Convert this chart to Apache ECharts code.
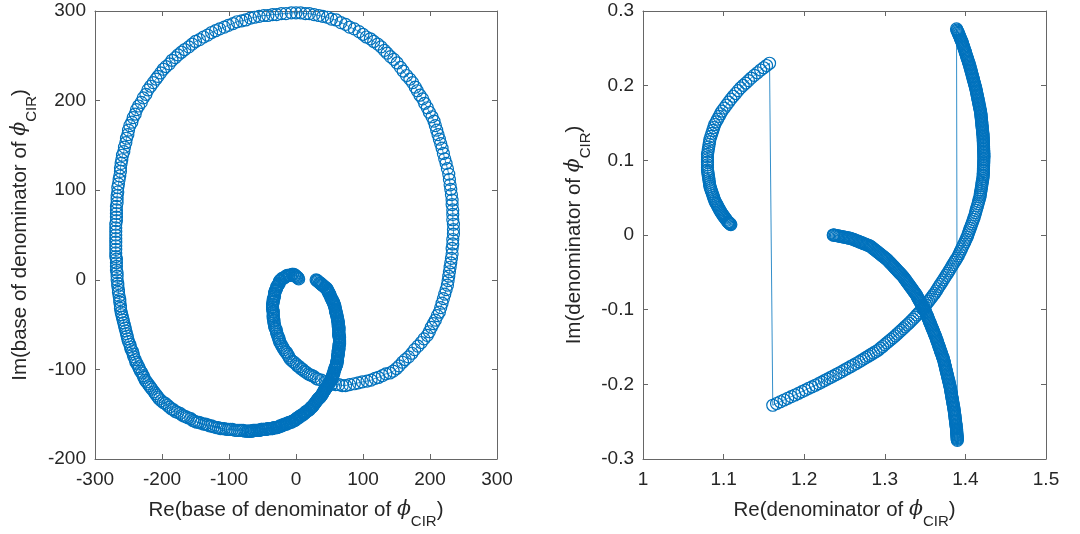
<!DOCTYPE html>
<html>
<head>
<meta charset="utf-8">
<script src="https://cdn.jsdelivr.net/npm/echarts/dist/echarts.min.js"></script>
<style>
  html, body { margin: 0; padding: 0; background: #ffffff; }
  #chart { width: 1080px; height: 534px; }
</style>
</head>
<body>
<div id="chart"></div>
<script>
// ---- Left panel: base of the denominator of phi_CIR (Re, Im) ----
// solid band from the start point down the right arc to the bottom
const baseDenseArc = [
  [30,0],[31,-1],[32,-1],[33,-2],[35,-3],[36,-4],[37,-4],[38,-5],[39,-6],[40,-6],[41,-7],[43,-8],[44,-9],[45,-9],[46,-10],
  [47,-11],[47,-12],[48,-13],[49,-14],[49,-15],[50,-16],[51,-17],[52,-19],[52,-20],[53,-21],[54,-22],[54,-23],[55,-24],[56,-25],[56,-26],[57,-27],
  [57,-28],[58,-29],[58,-30],[58,-31],[59,-33],[59,-34],[59,-35],[60,-36],[60,-37],[60,-38],[61,-39],[61,-40],[61,-41],[62,-43],[62,-44],[62,-45],[63,-46],[63,-47],
  [63,-48],[63,-49],[63,-50],[63,-52],[64,-53],[64,-54],[64,-55],[64,-56],[64,-57],[64,-59],[64,-60],[64,-61],[64,-62],[64,-63],[65,-64],[65,-65],[65,-67],[65,-68],[65,-69],[65,-70],
  [65,-71],[65,-72],[64,-73],[64,-75],[64,-76],[64,-77],[64,-78],[63,-79],[63,-80],[63,-82],[63,-83],[63,-84],[62,-85],[62,-86],[62,-87],[62,-88],[62,-90],[61,-91],[61,-92],[61,-93],
  [61,-94],[60,-95],[60,-96],[59,-97],[59,-98],[58,-99],[58,-100],[57,-101],[57,-103],[56,-104],[56,-105],[55,-106],[55,-107],[54,-108],[54,-109],[53,-110],[53,-111],[52,-112],
  [51,-113],[50,-114],[50,-115],[49,-116],[48,-117],[47,-118],[47,-119],[46,-120],[45,-120],[44,-121],[43,-122],[43,-123],[42,-124],[41,-125],[40,-126],[40,-127],[39,-128],[38,-129],
  [37,-130],[36,-131],[35,-132],[34,-132],[33,-133],[32,-134],[31,-135],[30,-136],[29,-137],[28,-138],[27,-139],[26,-140],[25,-141],[24,-142],[23,-142],[22,-143],[21,-144],
  [20,-145],[19,-145],[18,-146],[16,-147],[15,-147],[14,-148],[13,-149],[12,-149],[11,-150],[10,-151],[8,-151],[7,-152],[6,-152],[5,-153],[4,-154],[2,-154],[1,-155],[0,-156],[-1,-156],[-2,-157],
  [-3,-157],[-5,-158],[-6,-158],[-7,-159],[-9,-159],[-10,-159],[-11,-160],[-13,-160],[-14,-161],[-15,-161],[-17,-161],[-18,-162],[-20,-162],[-21,-163],[-22,-163],[-24,-163],[-25,-164],[-26,-164],[-28,-165],[-29,-165],
  [-30,-165],[-32,-165],[-33,-165],[-35,-166],[-36,-166],[-38,-166],[-39,-166],[-41,-166],[-42,-166],[-44,-167],[-45,-167],[-46,-167],[-48,-167],[-49,-167],[-51,-167],[-52,-167],[-54,-168],[-55,-168],[-57,-168],[-58,-168],
  [-60,-168],[-62,-168],[-64,-168],[-66,-169],[-67,-169],[-69,-169],[-71,-169],[-73,-169]
];
// lower-left part of the big loop, up to its leftmost point
const baseLowerArc = [
  [-76,-169],[-79,-168],[-82,-168],[-85,-168],[-88,-168],[-91,-168],[-95,-167],[-98,-167],[-101,-167],[-104,-167],[-107,-166],[-110,-166],[-113,-166],
  [-116,-165],[-119,-165],[-123,-164],[-126,-163],[-129,-163],[-132,-162],[-135,-161],[-138,-161],[-142,-160],[-145,-159],[-148,-159],[-151,-158],
  [-154,-157],[-157,-155],[-161,-154],[-164,-153],[-167,-152],[-170,-151],[-173,-149],[-177,-148],[-180,-147],
  [-183,-145],[-186,-144],[-189,-142],[-192,-140],[-195,-138],[-198,-137],[-201,-135],[-204,-133],
  [-206,-131],[-208,-129],[-210,-127],[-212,-125],[-215,-122],[-217,-120],[-219,-118],[-221,-116],[-223,-114],
  [-225,-112],[-227,-109],[-228,-107],[-230,-104],[-232,-102],[-234,-99],[-235,-97],[-237,-94],[-239,-92],
  [-240,-89],[-242,-86],[-243,-83],[-244,-80],[-246,-78],[-247,-75],[-248,-72],[-250,-69],[-251,-66],
  [-252,-63],[-253,-60],[-254,-57],[-255,-54],[-256,-51],[-257,-48],[-258,-45],[-259,-42],[-260,-39],[-261,-36],
  [-262,-32],[-262,-29],[-263,-25],[-263,-22],[-264,-18],[-265,-14],[-265,-11],[-266,-7],[-266,-4],[-267,0],
  [-267,4],[-267,8],[-268,11],[-268,15],[-268,19],[-268,23],[-269,26],[-269,30],
  [-269,34],[-269,38],[-269,42],[-269,46],[-269,50]
];
// open part of the big loop: over the top, down the right side
const baseOuterArc = [
  [-269,54],[-269,58],[-269,62],[-268,66],[-268,70],[-268,74],[-268,78],[-268,82],[-267,86],[-267,90],[-267,94],
  [-266,98],[-266,103],[-265,107],[-264,112],[-263,116],[-262,121],[-262,125],[-261,130],[-260,134],
  [-259,139],[-257,143],[-256,148],[-254,153],[-253,158],[-251,162],[-250,167],
  [-248,172],[-245,176],[-243,181],[-240,185],[-238,190],[-235,194],
  [-231,198],[-228,203],[-224,207],[-221,212],[-217,216],
  [-213,220],[-209,224],[-206,227],[-202,231],[-198,235],
  [-194,238],[-189,241],[-185,245],[-180,248],[-176,251],
  [-171,254],[-166,257],[-160,260],[-155,263],[-150,266],
  [-144,268],[-138,271],[-132,273],[-126,276],[-120,278],
  [-114,280],[-107,282],[-101,284],[-94,286],[-88,288],
  [-81,289],[-75,290],[-68,292],[-62,293],[-55,294],
  [-48,295],[-42,295],[-35,296],[-29,296],[-22,297],
  [-15,297],[-7,298],[0,298],
  [7,298],[14,297],[20,297],[27,296],
  [34,295],[40,294],[47,293],[53,291],[60,290],
  [67,287],[74,285],[80,282],[87,280],[94,277],
  [100,274],[105,271],[111,269],[116,266],[122,263],
  [127,260],[132,256],[136,253],[141,249],[146,246],
  [151,242],[156,237],[160,233],[165,228],[170,224],
  [174,220],[178,215],[181,211],[185,206],[189,202],
  [192,197],[196,192],[199,187],[203,182],[206,177],
  [208,172],[210,167],[212,162],[214,157],[216,152],[218,147],
  [220,141],[222,135],[224,130],[226,124],[228,118],
  [229,112],[230,106],[231,101],[232,95],[233,89],
  [233,84],[234,78],[234,73],[234,67],[235,62],[235,56],
  [235,51],[234,45],[234,40],[233,35],[233,29],[232,24],
  [231,19],[230,14],[229,9],[228,4],[227,-1],[226,-6],
  [224,-11],[222,-16],[220,-21],[218,-26],[216,-31],[214,-36],
  [211,-40],[208,-45],[205,-49],[202,-53],[199,-58],[196,-62],
  [191,-66],[187,-70],[182,-74],[177,-78],[173,-82],[168,-86],
  [163,-89],[159,-92],[154,-96],[150,-99],[145,-102],
  [140,-104],[134,-105],[129,-107],[123,-109],[118,-110],[112,-112],
  [106,-113],[99,-114],[93,-115],[87,-116],[80,-117],[74,-118]
];
// small inner loop ending in the hook near the origin
const baseInnerArc = [
  [69,-118],[64,-117],[59,-117],[54,-116],
  [49,-115],[44,-114],[38,-112],[33,-111],
  [30,-110],[27,-108],[24,-107],[21,-106],[18,-105],[15,-103],[12,-102],
  [10,-100],[7,-99],[5,-97],[2,-96],[0,-94],[-3,-92],[-5,-91],[-8,-89],
  [-10,-87],[-11,-85],[-13,-83],[-14,-81],[-16,-80],[-18,-78],[-19,-76],[-21,-74],[-22,-72],[-24,-70],
  [-25,-68],[-25,-66],[-26,-65],[-27,-63],[-28,-61],[-29,-59],[-29,-57],[-30,-55],[-31,-54],[-32,-52],[-32,-50],[-33,-48],
  [-33,-46],[-33,-45],[-34,-43],[-34,-41],[-34,-40],[-34,-38],[-34,-36],[-34,-35],[-35,-33],[-35,-31],[-35,-30],[-35,-28],
  [-35,-27],[-34,-25],[-34,-24],[-34,-22],[-33,-21],[-33,-19],[-32,-18],[-32,-16],[-32,-15],[-31,-13],[-31,-12],
  [-30,-11],[-29,-10],[-29,-8],[-28,-7],[-27,-6],[-26,-5],[-25,-4],[-25,-2],[-24,-1],[-23,0],
  [-21,1],[-20,2],[-18,2],[-16,3],[-15,4],[-13,5],
  [-11,5],[-10,5],[-8,5],[-6,6],[-5,6],[-3,6],
  [-2,5],[-1,5],[0,4],[1,3],[2,3],[3,2],[4,1]
];

// ---- Right panel: denominator of phi_CIR (Re, Im) ----
// solid arc from (1.24, 0) down to the lower end near x = 1.39
const denomArcC = [
  [1.236,0],[1.2365,0],[1.237,0],
  [1.2386,-0.0004],[1.2401,-0.0007],[1.2417,-0.0011],[1.2433,-0.0014],[1.2449,-0.0018],[1.2464,-0.0021],[1.248,-0.0025],[1.2496,-0.0029],[1.2511,-0.0032],[1.2527,-0.0036],[1.2543,-0.0039],[1.2559,-0.0043],[1.2574,-0.0046],[1.259,-0.005],
  [1.2605,-0.0057],[1.2621,-0.0063],[1.2636,-0.007],[1.2651,-0.0077],[1.2667,-0.0083],[1.2682,-0.009],[1.2697,-0.0097],[1.2713,-0.0103],[1.2728,-0.011],[1.2743,-0.0117],[1.2759,-0.0123],[1.2774,-0.013],[1.2789,-0.0137],[1.2805,-0.0143],[1.282,-0.015],
  [1.2833,-0.0161],[1.2846,-0.0173],[1.2859,-0.0184],[1.2873,-0.0195],[1.2886,-0.0206],[1.2899,-0.0218],[1.2912,-0.0229],[1.2925,-0.024],[1.2938,-0.0251],[1.2951,-0.0263],[1.2964,-0.0274],[1.2978,-0.0285],[1.2991,-0.0296],[1.3004,-0.0308],[1.3017,-0.0319],[1.303,-0.033],
  [1.3041,-0.0343],[1.3052,-0.0356],[1.3063,-0.0368],[1.3074,-0.0381],[1.3086,-0.0394],[1.3097,-0.0407],[1.3108,-0.0419],[1.3119,-0.0432],[1.313,-0.0445],[1.3141,-0.0458],[1.3152,-0.0471],[1.3163,-0.0483],[1.3174,-0.0496],[1.3186,-0.0509],[1.3197,-0.0522],[1.3208,-0.0534],[1.3219,-0.0547],[1.323,-0.056],
  [1.3239,-0.0574],[1.3249,-0.0588],[1.3258,-0.0602],[1.3268,-0.0616],[1.3277,-0.0631],[1.3286,-0.0645],[1.3296,-0.0659],[1.3305,-0.0673],[1.3315,-0.0687],[1.3324,-0.0701],[1.3334,-0.0715],[1.3343,-0.0729],[1.3352,-0.0744],[1.3362,-0.0758],[1.3371,-0.0772],[1.3381,-0.0786],[1.339,-0.08],
  [1.3398,-0.0815],[1.3405,-0.083],[1.3413,-0.0845],[1.342,-0.086],[1.3428,-0.0875],[1.3435,-0.089],[1.3443,-0.0905],[1.345,-0.092],[1.3458,-0.0935],[1.3465,-0.095],[1.3473,-0.0965],[1.348,-0.098],[1.3488,-0.0995],[1.3495,-0.101],[1.3503,-0.1025],[1.351,-0.104],
  [1.3516,-0.1056],[1.3522,-0.1072],[1.3528,-0.1088],[1.3534,-0.1104],[1.354,-0.112],[1.3546,-0.1136],[1.3552,-0.1152],[1.3558,-0.1168],[1.3564,-0.1184],[1.357,-0.12],[1.3576,-0.1216],[1.3582,-0.1232],[1.3588,-0.1248],[1.3594,-0.1264],[1.36,-0.128],[1.3606,-0.1296],[1.3612,-0.1312],[1.3618,-0.1328],[1.3624,-0.1344],[1.363,-0.136],
  [1.3635,-0.1376],[1.3641,-0.1393],[1.3646,-0.1409],[1.3651,-0.1425],[1.3656,-0.1442],[1.3662,-0.1458],[1.3667,-0.1474],[1.3672,-0.1491],[1.3677,-0.1507],[1.3683,-0.1523],[1.3688,-0.154],[1.3693,-0.1556],[1.3698,-0.1572],[1.3704,-0.1588],[1.3709,-0.1605],[1.3714,-0.1621],[1.3719,-0.1637],[1.3725,-0.1654],[1.373,-0.167],
  [1.3734,-0.1687],[1.3738,-0.1704],[1.3741,-0.1721],[1.3745,-0.1739],[1.3749,-0.1756],[1.3753,-0.1773],[1.3757,-0.179],[1.376,-0.1807],[1.3764,-0.1824],[1.3768,-0.1841],[1.3772,-0.1859],[1.3776,-0.1876],[1.378,-0.1893],[1.3783,-0.191],[1.3787,-0.1927],[1.3791,-0.1944],[1.3795,-0.1961],[1.3799,-0.1979],[1.3802,-0.1996],[1.3806,-0.2013],[1.381,-0.203],
  [1.3813,-0.2047],[1.3816,-0.2064],[1.3818,-0.2082],[1.3821,-0.2099],[1.3824,-0.2116],[1.3827,-0.2133],[1.3829,-0.2151],[1.3832,-0.2168],[1.3835,-0.2185],[1.3838,-0.2202],[1.3841,-0.2219],[1.3843,-0.2237],[1.3846,-0.2254],[1.3849,-0.2271],[1.3852,-0.2288],[1.3854,-0.2306],[1.3857,-0.2323],[1.386,-0.234],
  [1.3862,-0.2357],[1.3864,-0.2375],[1.3866,-0.2392],[1.3868,-0.2409],[1.387,-0.2427],[1.3872,-0.2444],[1.3874,-0.2461],[1.3876,-0.2479],[1.3878,-0.2496],[1.388,-0.2513],[1.3882,-0.2531],[1.3884,-0.2548],[1.3886,-0.2565],[1.3888,-0.2583],[1.389,-0.26],
  [1.3891,-0.2613],[1.3892,-0.2625],[1.3893,-0.2638],[1.3893,-0.265],[1.3894,-0.2663],[1.3895,-0.2675],[1.3896,-0.2688],[1.3897,-0.27],[1.3898,-0.2713],[1.3898,-0.2725],[1.3899,-0.2738],[1.39,-0.275]
];
// arc from the top near x = 1.39, round the right, down to (1.16, -0.23)
const denomArcB = [
  [1.389,0.276],
  [1.3896,0.2745],[1.3902,0.273],[1.3908,0.2715],[1.3913,0.27],[1.3919,0.2685],[1.3925,0.267],[1.3931,0.2655],[1.3937,0.264],[1.3943,0.2625],[1.3948,0.261],[1.3954,0.2595],[1.396,0.258],
  [1.3965,0.2563],[1.397,0.2547],[1.3975,0.253],[1.398,0.2513],[1.3985,0.2497],[1.399,0.248],[1.3995,0.2463],[1.4,0.2447],[1.4005,0.243],[1.401,0.2413],[1.4015,0.2397],[1.402,0.238],[1.4025,0.2363],[1.403,0.2347],[1.4035,0.233],[1.404,0.2313],[1.4045,0.2297],[1.405,0.228],
  [1.4054,0.2262],[1.4059,0.2244],[1.4063,0.2227],[1.4068,0.2209],[1.4072,0.2191],[1.4077,0.2173],[1.4081,0.2156],[1.4086,0.2138],[1.409,0.212],[1.4094,0.2102],[1.4099,0.2084],[1.4103,0.2067],[1.4108,0.2049],[1.4112,0.2031],[1.4117,0.2013],[1.4121,0.1996],[1.4126,0.1978],[1.413,0.196],
  [1.4133,0.1942],[1.4137,0.1924],[1.414,0.1907],[1.4143,0.1889],[1.4147,0.1871],[1.415,0.1853],[1.4153,0.1836],[1.4157,0.1818],[1.416,0.18],[1.4163,0.1782],[1.4167,0.1764],[1.417,0.1747],[1.4173,0.1729],[1.4177,0.1711],[1.418,0.1693],[1.4183,0.1676],[1.4187,0.1658],[1.419,0.164],
  [1.4192,0.1622],[1.4193,0.1604],[1.4195,0.1587],[1.4197,0.1569],[1.4198,0.1551],[1.42,0.1533],[1.4202,0.1516],[1.4203,0.1498],[1.4205,0.148],[1.4207,0.1462],[1.4208,0.1444],[1.421,0.1427],[1.4212,0.1409],[1.4213,0.1391],[1.4215,0.1373],[1.4217,0.1356],[1.4218,0.1338],[1.422,0.132],
  [1.4221,0.1301],[1.4221,0.1281],[1.4222,0.1262],[1.4223,0.1243],[1.4224,0.1224],[1.4224,0.1204],[1.4225,0.1185],[1.4226,0.1166],[1.4226,0.1146],[1.4227,0.1127],[1.4228,0.1108],[1.4229,0.1089],[1.4229,0.1069],[1.423,0.105],
  [1.4229,0.1028],[1.4228,0.1005],[1.4228,0.0983],[1.4227,0.096],[1.4226,0.0938],[1.4225,0.0915],[1.4224,0.0893],[1.4223,0.087],[1.4223,0.0848],[1.4222,0.0825],[1.4221,0.0803],[1.422,0.078],
  [1.4216,0.0755],[1.4213,0.0731],[1.4209,0.0706],[1.4205,0.0682],[1.4202,0.0657],[1.4198,0.0633],[1.4195,0.0608],[1.4191,0.0584],[1.4187,0.0559],[1.4184,0.0535],[1.418,0.051],
  [1.4172,0.048],[1.4164,0.045],[1.4157,0.042],[1.4149,0.039],[1.4141,0.036],[1.4133,0.033],[1.4126,0.03],[1.4118,0.027],[1.411,0.024],
  [1.41,0.021],[1.409,0.018],[1.408,0.015],[1.407,0.012],[1.406,0.009],[1.405,0.006],[1.404,0.003],[1.403,0],[1.402,-0.003],
  [1.4006,-0.0061],[1.3993,-0.0093],[1.3979,-0.0124],[1.3965,-0.0155],[1.3951,-0.0186],[1.3938,-0.0218],[1.3924,-0.0249],[1.391,-0.028],
  [1.3894,-0.0309],[1.3878,-0.0338],[1.3861,-0.0366],[1.3845,-0.0395],[1.3829,-0.0424],[1.3813,-0.0453],[1.3796,-0.0481],[1.378,-0.051],
  [1.3762,-0.054],[1.3744,-0.057],[1.3727,-0.06],[1.3709,-0.063],[1.3691,-0.066],[1.3673,-0.069],[1.3656,-0.072],[1.3638,-0.075],[1.362,-0.078],
  [1.3601,-0.0806],[1.3583,-0.0833],[1.3564,-0.0859],[1.3545,-0.0885],[1.3526,-0.0911],[1.3508,-0.0938],[1.3489,-0.0964],[1.347,-0.099],
  [1.3446,-0.1017],[1.3421,-0.1044],[1.3397,-0.1071],[1.3373,-0.1099],[1.3349,-0.1126],[1.3324,-0.1153],[1.33,-0.118],
  [1.3276,-0.1204],[1.3251,-0.1229],[1.3227,-0.1253],[1.3203,-0.1277],[1.3179,-0.1301],[1.3154,-0.1326],[1.313,-0.135],
  [1.3104,-0.1374],[1.3078,-0.1398],[1.3051,-0.1421],[1.3025,-0.1445],[1.2999,-0.1469],[1.2973,-0.1493],[1.2946,-0.1516],[1.292,-0.154],
  [1.289,-0.156],[1.286,-0.158],[1.283,-0.16],[1.28,-0.162],[1.277,-0.164],[1.274,-0.166],[1.271,-0.168],[1.268,-0.17],
  [1.2644,-0.1721],[1.2609,-0.1743],[1.2573,-0.1764],[1.2537,-0.1786],[1.2501,-0.1807],[1.2466,-0.1829],[1.243,-0.185],
  [1.2394,-0.187],[1.2359,-0.189],[1.2323,-0.191],[1.2287,-0.193],[1.2251,-0.195],[1.2216,-0.197],[1.218,-0.199],
  [1.2138,-0.2012],[1.2097,-0.2033],[1.2055,-0.2055],[1.2013,-0.2077],[1.1972,-0.2098],[1.193,-0.212],
  [1.1885,-0.2143],[1.184,-0.2165],[1.1795,-0.2188],[1.175,-0.221],
  [1.1703,-0.2233],[1.1657,-0.2257],[1.161,-0.228]
];
// short arc on the left, from (1.16, 0.23) down to (1.11, 0.014)
const denomArcA = [
  [1.157,0.230],[1.1533,0.227],[1.1497,0.224],[1.146,0.221],
  [1.142,0.2173],[1.138,0.2137],[1.134,0.21],
  [1.1308,0.2068],[1.1275,0.2035],[1.1243,0.2003],[1.121,0.197],
  [1.118,0.1933],[1.115,0.1895],[1.112,0.1858],[1.109,0.182],
  [1.1063,0.178],[1.1035,0.174],[1.1008,0.17],[1.098,0.166],
  [1.0962,0.1624],[1.0944,0.1588],[1.0926,0.1552],[1.0908,0.1516],[1.089,0.148],
  [1.0878,0.144],[1.0866,0.14],[1.0854,0.136],[1.0842,0.132],[1.083,0.128],
  [1.0825,0.1247],[1.082,0.1213],[1.0815,0.118],[1.081,0.1147],[1.0805,0.1113],[1.08,0.108],
  [1.08,0.1045],[1.08,0.101],[1.08,0.0975],[1.08,0.094],[1.08,0.0905],[1.08,0.087],
  [1.0804,0.0843],[1.0808,0.0815],[1.0811,0.0788],[1.0815,0.076],[1.0819,0.0733],[1.0823,0.0705],[1.0826,0.0678],[1.083,0.065],
  [1.0838,0.0626],[1.0845,0.0603],[1.0853,0.0579],[1.086,0.0555],[1.0868,0.0531],[1.0875,0.0508],[1.0883,0.0484],[1.089,0.046],
  [1.0899,0.0442],[1.0908,0.0424],[1.0917,0.0407],[1.0926,0.0389],[1.0934,0.0371],[1.0943,0.0353],[1.0952,0.0336],[1.0961,0.0318],[1.097,0.03],
  [1.098,0.0285],[1.099,0.027],[1.1,0.0255],[1.101,0.024],[1.102,0.0225],[1.103,0.021],[1.104,0.0195],[1.105,0.018],
  [1.1057,0.0173],[1.1063,0.0167],[1.107,0.016],[1.1077,0.0153],[1.1083,0.0147],[1.109,0.014]
];

// axis ranges and tick steps
const baseRangeX = [-300, 300], baseRangeY = [-200, 300], baseStep = 100;
const denomRangeX = [1, 1.5], denomRangeY = [-0.3, 0.3], denomStep = 0.1;

// axis titles (rich text: italic phi with subscript CIR)
const baseXTitle = '{t|Re(base of denominator of }{p|ϕ}{s|CIR}{t|)}';
const baseYTitle = '{t|Im(base of denominator of }{p|ϕ}{s|CIR}{t|)}';
const denomXTitle = '{t|Re(denominator of }{p|ϕ}{s|CIR}{t|)}';
const denomYTitle = '{t|Im(denominator of }{p|ϕ}{s|CIR}{t|)}';

const LINE_BLUE = '#0072BD';
const AXIS_GREY = '#666666';
const TEXT_DARK = '#262626';
const FONT = '"Liberation Sans", Arial, Helvetica, sans-serif';

const titleRich = {
  t: { fontFamily: FONT, fontSize: 20.5, lineHeight: 38, color: TEXT_DARK, verticalAlign: 'middle' },
  p: { fontFamily: '"DejaVu Serif", serif', fontStyle: 'italic', fontSize: 20.5, lineHeight: 38, color: TEXT_DARK, verticalAlign: 'middle' },
  s: { fontFamily: FONT, fontSize: 15, lineHeight: 15, color: TEXT_DARK, verticalAlign: 'bottom' }
};

function fmtTick(step) {
  return function (v) {
    const r = Math.round(v / step) * step;
    return step < 1 ? String(+r.toFixed(1)) : String(Math.round(r));
  };
}

function makeX(grid, range, step, title, gap, showLabels) {
  return {
    type: 'value', gridIndex: grid, min: range[0], max: range[1], interval: step,
    position: showLabels ? 'bottom' : 'top',
    name: showLabels ? title : '', nameLocation: 'middle', nameGap: gap,
    nameTextStyle: { rich: titleRich },
    axisLine: { show: true, onZero: false, lineStyle: { color: AXIS_GREY, width: 1 } },
    axisTick: { show: true, inside: true, length: 5, lineStyle: { color: AXIS_GREY, width: 1 } },
    axisLabel: { show: showLabels, margin: 11, color: TEXT_DARK, fontSize: 19, fontFamily: FONT, formatter: fmtTick(step) },
    splitLine: { show: false }
  };
}

function makeY(grid, range, step, title, gap, showLabels) {
  return {
    type: 'value', gridIndex: grid, min: range[0], max: range[1], interval: step,
    position: showLabels ? 'left' : 'right',
    name: showLabels ? title : '', nameLocation: 'middle', nameGap: gap,
    nameTextStyle: { rich: titleRich },
    axisLine: { show: true, onZero: false, lineStyle: { color: AXIS_GREY, width: 1 } },
    axisTick: { show: true, inside: true, length: 5, lineStyle: { color: AXIS_GREY, width: 1 } },
    axisLabel: { show: showLabels, margin: 9, color: TEXT_DARK, fontSize: 19, fontFamily: FONT, formatter: fmtTick(step) },
    splitLine: { show: false }
  };
}

function ringSeries(xi, yi, data) {
  return {
    type: 'line', xAxisIndex: xi, yAxisIndex: yi, data: data,
    symbol: 'circle', symbolSize: 12, showSymbol: true, clip: false,
    itemStyle: { color: 'rgba(0,0,0,0)', borderColor: LINE_BLUE, borderWidth: 1.2 },
    lineStyle: { color: LINE_BLUE, width: 0.8 },
    silent: true, animation: false
  };
}

const basePath = baseDenseArc.concat(baseLowerArc, baseOuterArc, baseInnerArc);
const denomPath = denomArcC.concat(denomArcB, denomArcA);

const chart = echarts.init(document.getElementById('chart'), null, { renderer: 'canvas' });
chart.setOption({
  backgroundColor: '#ffffff',
  animation: false,
  grid: [
    { left: 95, top: 11, width: 402, height: 449 },
    { left: 643, top: 11, width: 403, height: 449 }
  ],
  xAxis: [
    makeX(0, baseRangeX, baseStep, baseXTitle, 32, true),
    makeX(0, baseRangeX, baseStep, '', 0, false),
    makeX(1, denomRangeX, denomStep, denomXTitle, 32, true),
    makeX(1, denomRangeX, denomStep, '', 0, false)
  ],
  yAxis: [
    makeY(0, baseRangeY, baseStep, baseYTitle, 56, true),
    makeY(0, baseRangeY, baseStep, '', 0, false),
    makeY(1, denomRangeY, denomStep, denomYTitle, 50, true),
    makeY(1, denomRangeY, denomStep, '', 0, false)
  ],
  series: [
    ringSeries(0, 0, basePath),
    ringSeries(2, 2, denomPath)
  ]
});
</script>
</body>
</html>
